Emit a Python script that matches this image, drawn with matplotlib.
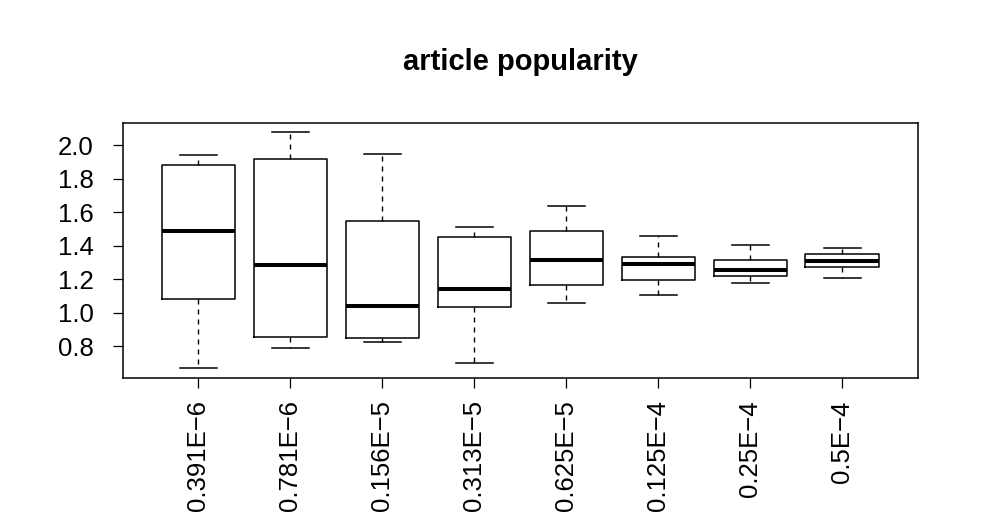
import matplotlib
matplotlib.use("Agg")
import matplotlib.pyplot as plt

# Box statistics (R-style boxplot)
labels = ["0.391E\u22126", "0.781E\u22126", "0.156E\u22125", "0.313E\u22125",
          "0.625E\u22125", "0.125E\u22124", "0.25E\u22124", "0.5E\u22124"]
whisker_low = [0.667, 0.790, 0.824, 0.700, 1.057, 1.106, 1.176, 1.204]
q1 = [1.080, 0.856, 0.848, 1.031, 1.164, 1.192, 1.216, 1.272]
median = [1.489, 1.284, 1.041, 1.142, 1.315, 1.288, 1.254, 1.309]
q3 = [1.881, 1.916, 1.550, 1.453, 1.485, 1.333, 1.312, 1.351]
whisker_high = [1.944, 2.080, 1.948, 1.512, 1.638, 1.459, 1.403, 1.389]
yticks = [0.8, 1.0, 1.2, 1.4, 1.6, 1.8, 2.0]

plt.rcParams["font.family"] = ["Liberation Sans", "DejaVu Sans"]

fig = plt.figure(figsize=(9.82, 5.32), dpi=100)
ax = fig.add_axes([0.1253, 0.290, 0.8092, 0.4797])

stats = []
for i in range(len(labels)):
    stats.append({
        "whislo": whisker_low[i], "q1": q1[i], "med": median[i],
        "q3": q3[i], "whishi": whisker_high[i], "fliers": [],
    })

positions = list(range(1, len(labels) + 1))
ax.bxp(
    stats,
    positions=positions,
    widths=0.8,
    showfliers=False,
    boxprops=dict(color="black", linewidth=1.1),
    medianprops=dict(color="black", linewidth=2.9, solid_capstyle="butt"),
    whiskerprops=dict(color="black", linewidth=1.0, linestyle=(0, (3.6, 3.6))),
    capprops=dict(color="black", linewidth=1.1),
    capwidths=0.4,
)

n = len(labels)
ax.set_xlim(0.5 - 0.04 * n, n + 0.5 + 0.04 * n)
lo = min(whisker_low)
hi = max(whisker_high)
span = hi - lo
ax.set_ylim(lo - 0.04 * span, hi + 0.04 * span)

ax.set_xticks(positions)
ax.set_xticklabels(labels, rotation=90, fontsize=18.5)
ax.set_yticks(yticks)
ax.set_yticklabels([f"{v:.1f}" for v in yticks], fontsize=18.5)
ax.tick_params(axis="x", length=7.2, width=0.9, pad=9, direction="out")
ax.tick_params(axis="y", length=7.2, width=0.9, pad=14, direction="out")

for side in ["top", "bottom", "left", "right"]:
    ax.spines[side].set_linewidth(1.1)

fig.text(0.5295, 0.883, "article popularity", ha="center", va="center",
         fontsize=21, fontweight="bold")

fig.savefig("out.png", dpi=100)
